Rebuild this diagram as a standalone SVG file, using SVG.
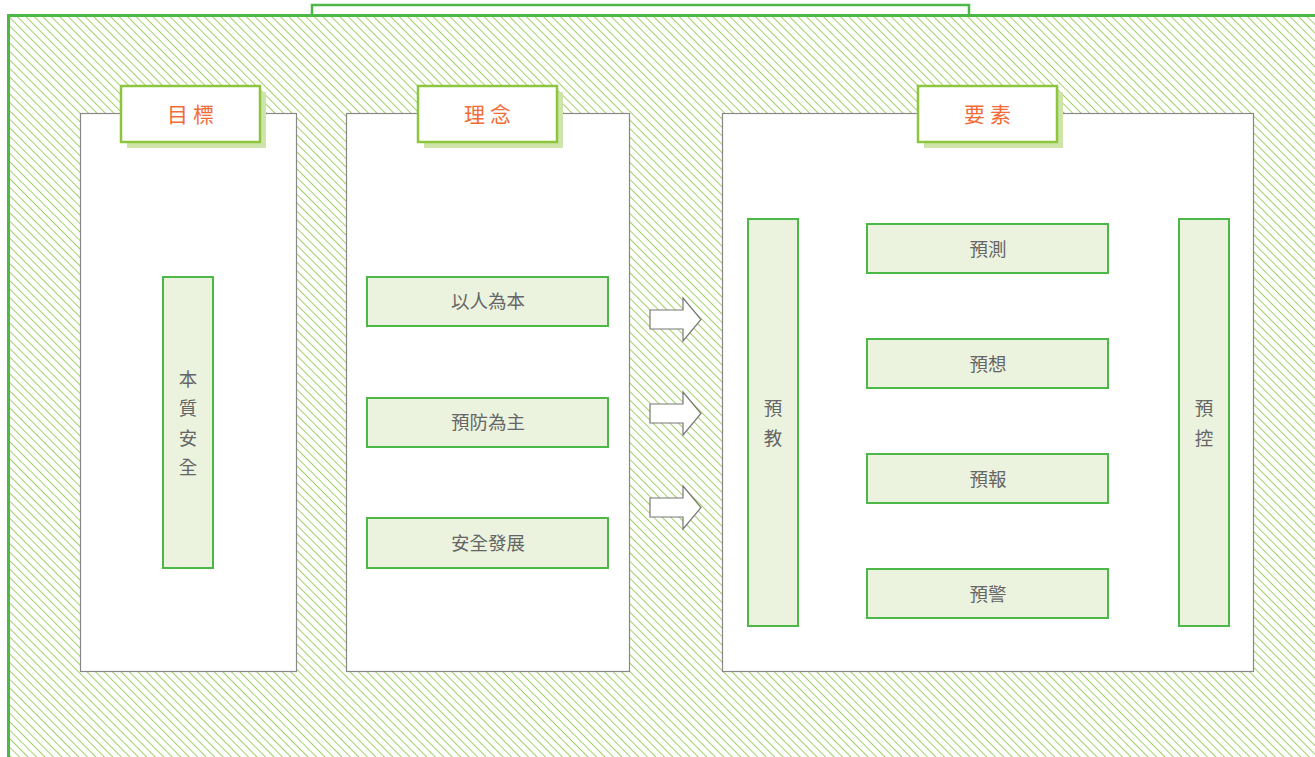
<svg xmlns="http://www.w3.org/2000/svg" width="1315" height="757" viewBox="0 0 1315 757">
<defs>
<pattern id="hatch" patternUnits="userSpaceOnUse" width="6" height="6" patternTransform="rotate(-45)">
<rect width="6" height="6" fill="#fff"/>
<line x1="0" y1="0" x2="0" y2="6" stroke="#8cc63f" stroke-width="1.6"/>
</pattern>
</defs>
<style>
.panel{fill:#fff;stroke:#888;stroke-width:1.2}
.hdrsh{fill:#cfe4a9}
.hdr{fill:#fff;stroke:#8cc63f;stroke-width:2.5}
.hdrt{font-family:"Noto Sans CJK TC","Noto Sans CJK SC",sans-serif;font-size:21px;fill:#f26b35;text-anchor:middle;letter-spacing:5px}
.box{fill:#ebf3de;stroke:#4cb848;stroke-width:2}
.bt{font-family:"Noto Sans CJK TC","Noto Sans CJK SC",sans-serif;font-size:18.5px;fill:#666;text-anchor:middle}
.arrow{fill:#fff;stroke:#777;stroke-width:1.2}
</style>
<rect width="1315" height="757" fill="#fff"/>
<rect x="312" y="5" width="657" height="12" fill="#fff" stroke="#4cb848" stroke-width="2.5"/>
<rect x="8.5" y="15.5" width="1320" height="760" fill="url(#hatch)" stroke="#4cb848" stroke-width="3"/>

<g id="panel-goal">
<rect class="panel" x="80.5" y="113.5" width="216" height="558"/>
<rect class="hdrsh" x="127" y="92" width="139" height="56"/>
<rect class="hdr" x="121" y="86" width="139" height="56"/>
<text class="hdrt" x="193" y="122">目標</text>
</g>
<g id="node-benzhi">
<rect class="box" x="163" y="277" width="50" height="291"/>
<text class="bt" x="188" y="386">本</text>
<text class="bt" x="188" y="415">質</text>
<text class="bt" x="188" y="445">安</text>
<text class="bt" x="188" y="474">全</text>
</g>

<g id="panel-idea">
<rect class="panel" x="346.5" y="113.5" width="283" height="558"/>
<rect class="hdrsh" x="424" y="92" width="139" height="56"/>
<rect class="hdr" x="418" y="86" width="139" height="56"/>
<text class="hdrt" x="490" y="122">理念</text>
</g>
<g id="node-yirenweiben">
<rect class="box" x="367" y="277" width="241" height="49"/>
<text class="bt" x="488" y="308">以人為本</text>
</g>
<g id="node-yufang">
<rect class="box" x="367" y="398" width="241" height="49"/>
<text class="bt" x="488" y="429">預防為主</text>
</g>
<g id="node-anquan">
<rect class="box" x="367" y="518" width="241" height="50"/>
<text class="bt" x="488" y="550">安全發展</text>
</g>

<g id="connectors">
<path class="arrow" d="M650,310 H683 V298 L701,319.5 L683,341 V329 H650 Z"/>
<path class="arrow" d="M650,404 H683 V392 L701,413.5 L683,435 V423 H650 Z"/>
<path class="arrow" d="M650,498 H683 V486 L701,507.5 L683,529 V517 H650 Z"/>
</g>

<g id="panel-elements">
<rect class="panel" x="722.5" y="113.5" width="531" height="558"/>
<rect class="hdrsh" x="924" y="92" width="139" height="56"/>
<rect class="hdr" x="918" y="86" width="139" height="56"/>
<text class="hdrt" x="990" y="122">要素</text>
</g>
<g id="node-yujiao">
<rect class="box" x="748" y="219" width="50" height="407"/>
<text class="bt" x="773" y="415">預</text>
<text class="bt" x="773" y="445">教</text>
</g>
<g id="node-yuce">
<rect class="box" x="867" y="224" width="241" height="49"/>
<text class="bt" x="988" y="256">預測</text>
</g>
<g id="node-yuxiang">
<rect class="box" x="867" y="339" width="241" height="49"/>
<text class="bt" x="988" y="371">預想</text>
</g>
<g id="node-yubao">
<rect class="box" x="867" y="454" width="241" height="49"/>
<text class="bt" x="988" y="486">預報</text>
</g>
<g id="node-yujing">
<rect class="box" x="867" y="569" width="241" height="49"/>
<text class="bt" x="988" y="601">預警</text>
</g>
<g id="node-yukong">
<rect class="box" x="1179" y="219" width="50" height="407"/>
<text class="bt" x="1204" y="415">預</text>
<text class="bt" x="1204" y="445">控</text>
</g>
</svg>
